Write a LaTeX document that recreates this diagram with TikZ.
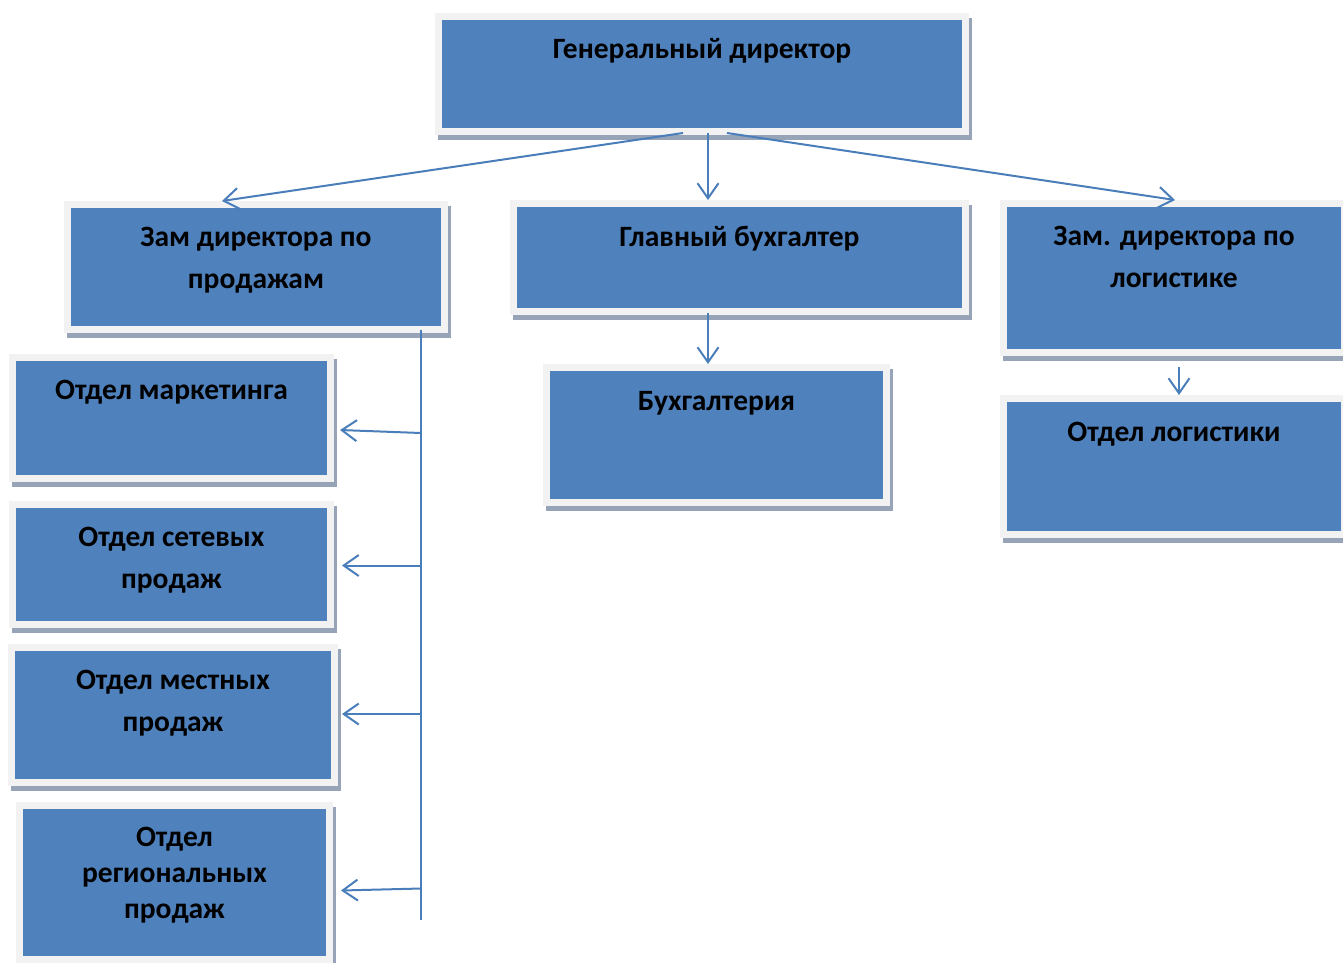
\documentclass[tikz,border=0pt]{standalone}
\usepackage{fontspec}
\setmainfont{Carlito}
\usetikzlibrary{positioning,arrows.meta,calc}
\definecolor{boxblue}{HTML}{4F81BD}
\definecolor{framegray}{HTML}{F2F2F2}
\definecolor{shadowgray}{HTML}{97A3B6}
\definecolor{linkblue}{HTML}{4A7EBB}
\tikzset{
  unitbox/.style={rectangle, draw=framegray, fill=boxblue, line width=7pt, inner sep=0pt,
    preaction={draw=shadowgray, fill=shadowgray, transform canvas={shift={(3pt,-5pt)}}}},
  lbl/.style={inner sep=0pt, align=center, font=\fontsize{29.5}{42}\selectfont\bfseries,
    execute at begin node={\rule{0pt}{26pt}}},
  link/.style={draw=linkblue, line width=2pt, -{Straight Barb[length=15pt,width=21pt]}}
}
\begin{document}
\begin{tikzpicture}[x=1pt,y=-1pt]
\useasboundingbox (0,0) rectangle (1343,962);

% boxes
\node[unitbox, minimum width=527pt, minimum height=115pt] (gd) at (702,74) {};
\node[unitbox, minimum width=377pt, minimum height=125pt] (zsales) at (256,267) {};
\node[unitbox, minimum width=452pt, minimum height=108pt] (chacc) at (739.5,257.5) {};
\node[unitbox, minimum width=341pt, minimum height=149pt] (zlog) at (1174,278) {};
\node[unitbox, minimum width=318pt, minimum height=121pt] (mark) at (171.5,418) {};
\node[unitbox, minimum width=318pt, minimum height=120pt] (net) at (171.5,564.5) {};
\node[unitbox, minimum width=323pt, minimum height=135pt] (local) at (173,715) {};
\node[unitbox, minimum width=310pt, minimum height=154pt] (reg) at (174.5,882.5) {};
\node[unitbox, minimum width=340pt, minimum height=135pt] (buh) at (716.5,435) {};
\node[unitbox, minimum width=341pt, minimum height=136pt] (dlog) at (1174,466.5) {};

% texts
\node[lbl, below=19pt of gd.north] (gd text) {Генеральный директор};
\node[lbl, below=26pt of zsales.north] (zsales text) {Зам директора по\\продажам};
\node[lbl, below=20pt of chacc.north] (chacc text) {Главный бухгалтер};
\node[lbl, below=26pt of zlog.north] (zlog text) {Зам. директора по\\логистике};
\node[lbl, below=19.5pt of mark.north] (mark text) {Отдел маркетинга};
\node[lbl, below=26pt of net.north] (net text) {Отдел сетевых\\продаж};
\node[lbl, below=26pt of local.north] (local text) {Отдел местных\\продаж};
\node[lbl, below=25pt of reg.north, font=\fontsize{29.5}{36}\selectfont\bfseries] (reg text) {Отдел\\региональных\\продаж};
\node[lbl, below=20pt of buh.north] (buh text) {Бухгалтерия};
\node[lbl, below=20pt of dlog.north] (dlog text) {Отдел логистики};

% links
\draw[link] ([xshift=-19pt,yshift=2pt]gd.south) -- ([xshift=-34pt]zsales.north);
\draw[link] ([xshift=6pt,yshift=2pt]gd.south) -- ([xshift=6pt]gd.south |- chacc.north);
\draw[link] ([xshift=25pt,yshift=2pt]gd.south) -- ([xshift=1pt]zlog.north);
\draw[link] ([xshift=-31.5pt,yshift=2pt]chacc.south) -- ([xshift=-31.5pt]chacc.south |- buh.north);
\draw[link] ([xshift=5pt,yshift=-11pt]zlog.south) -- ([xshift=5pt]zlog.south |- dlog.north);

\coordinate (spine top) at ([xshift=-27pt,yshift=3pt]zsales.south east);
\coordinate (spine end) at (421,920);
\draw[draw=linkblue, line width=2pt] (spine top) -- (spine end);
\foreach \dept/\dx/\dy/\tilt in {mark/6/12/3, net/8/1/0, local/4/-1/0, reg/8/8/-2} {
  \coordinate (\dept in) at ($(\dept.east)+(\dx,\dy)$);
  \draw[link] ($(spine top |- \dept in)+(0,\tilt)$) -- (\dept in);
}
\end{tikzpicture}
\end{document}
